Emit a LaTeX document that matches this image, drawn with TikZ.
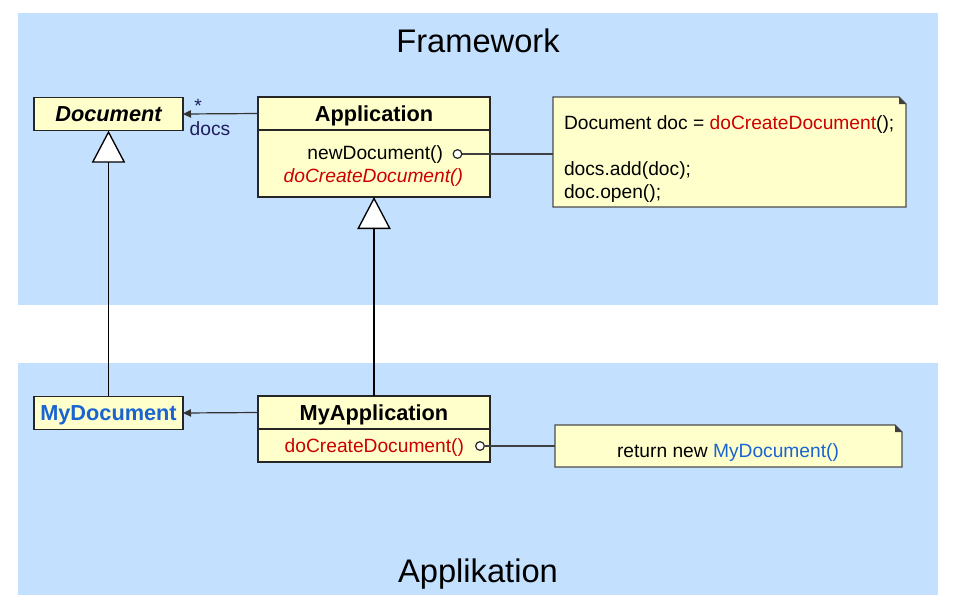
\documentclass[tikz,border=0pt]{standalone}
\usepackage{fontspec}
\setmainfont{Liberation Sans}
\usetikzlibrary{positioning}
\usetikzlibrary{calc}
\usetikzlibrary{arrows.meta}
\definecolor{bandblue}{RGB}{195,224,255}
\definecolor{boxyellow}{RGB}{255,255,204}
\definecolor{codered}{RGB}{204,0,0}
\definecolor{codeblue}{RGB}{25,100,210}
\definecolor{navy}{RGB}{30,30,90}
\tikzset{
	every node/.style={outer sep=0pt, font=\fontsize{14.4}{17.3}\selectfont},
	band/.style={fill=bandblue, draw=none},
	title/.style={anchor=base, font=\fontsize{24.5}{29}\selectfont},
	cls/.style={draw=black!85, fill=boxyellow, line width=1pt, inner sep=0pt, minimum height=25pt, text depth=0pt, font=\fontsize{16.3}{19}\selectfont\bfseries},
	body/.style={draw=black!85, fill=boxyellow, line width=1pt, inner sep=0pt},
	meth/.style={anchor=east, inner sep=0pt},
	port/.style={circle, draw=black!85, fill=white, inner sep=0pt, minimum size=6.5pt, line width=0.9pt},
	note/.style={draw=none, fill=none, inner sep=0pt},
	notebox/.style={fill=boxyellow, draw=black!70, line width=0.9pt},
	assoc/.style={-{Triangle[length=6pt,width=5.5pt]}, line width=0.9pt, draw=black!80},
	inherit/.style={-{Triangle[length=24pt,width=25pt,fill=white]}, line width=1pt},
	link/.style={line width=0.9pt, draw=black!75},
	lbl/.style={text=navy, inner sep=1pt}
}

\begin{document}
\begin{tikzpicture}[x=0.75pt,y=-0.75pt]
	% background bands
	\useasboundingbox[fill=white] (0,0) rectangle (958,612);
	\fill[band] (18,13) rectangle (938,305);
	\fill[band] (18,363) rectangle (938,595);
	\node[title] (fw) at (478,52) {Framework};
	\node[title] (appl) at (478,582) {Applikation};
	
	% framework classes
	\node[cls, minimum width=111.75pt, font=\fontsize{16.3}{19}\selectfont\bfseries\itshape] (doc) at (108.5,114) {Document};
	\node[cls, minimum width=174pt, minimum height=24.75pt] (app) at (374,113.5) {Application};
	\node[body, minimum width=174pt, minimum height=50.25pt, below=0pt of app] (appbody) {};
	\node[meth] (newdoc) at (443,155) {newDocument()};
	\node[port] (p1) at (457.5,154) {};
	\node[meth, text=codered, font=\fontsize{14.4}{17.3}\selectfont\itshape] (create) at (463,178) {doCreateDocument()};
	
	% application classes
	\node[cls, minimum width=111.75pt, text=codeblue] (mydoc) at (108.5,413) {MyDocument};
	\node[cls, minimum width=174pt, minimum height=24.75pt] (myapp) at (374,412.5) {MyApplication};
	\node[body, minimum width=174pt, minimum height=24.75pt, below=0pt of myapp] (myappbody) {};
	\node[meth, text=codered] (mycreate) at (464,447.5) {doCreateDocument()};
	\node[port] (p2) at (480,446) {};
	
	% notes
	\node[note, minimum width=264.75pt, minimum height=82.5pt] (note1) at (729.5,152) {};
	\filldraw[notebox] (note1.north west) -- ($(note1.north east)+(-7,0)$) -- ($(note1.north east)+(0,7)$) -- (note1.south east) -- (note1.south west) -- cycle;
	\fill[black!75] ($(note1.north east)+(-7,0)$) -- ($(note1.north east)+(0,7)$) -- ($(note1.north east)+(-7,7)$) -- cycle;
	\node[anchor=west, align=left, inner sep=0pt] (code1) at (564,159) {Document doc = \textcolor{codered}{doCreateDocument}();\\[17pt]docs.add(doc);\\doc.open();};
	
	\node[note, minimum width=260.25pt, minimum height=31.5pt] (note2) at (728.5,446) {};
	\filldraw[notebox] (note2.north west) -- ($(note2.north east)+(-7,0)$) -- ($(note2.north east)+(0,7)$) -- (note2.south east) -- (note2.south west) -- cycle;
	\fill[black!75] ($(note2.north east)+(-7,0)$) -- ($(note2.north east)+(0,7)$) -- ($(note2.north east)+(-7,7)$) -- cycle;
	\node[inner sep=0pt] (code2) at (728,452.5) {return new \textcolor{codeblue}{MyDocument()}};
	
	% connectors
	\draw[assoc] (app.west) -- node[lbl, pos=0.8, above] {*} node[lbl, pos=0.64, below=5pt] {docs} (doc.east);
	\draw[assoc] (myapp.west) -- (mydoc.east);
	\draw[inherit] (mydoc.north) -- (doc.south);
	\draw[inherit] (myapp.north) -- (appbody.south);
	\draw[link] (p1.east) -- (p1 -| note1.west);
	\draw[link] (p2.east) -- (p2 -| note2.west);
\end{tikzpicture}
\end{document}
